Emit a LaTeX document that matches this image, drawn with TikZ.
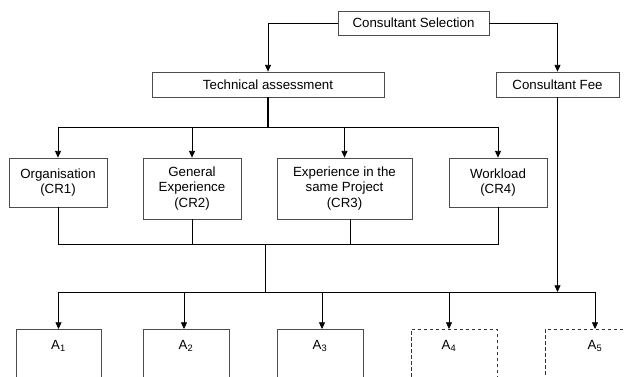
\documentclass[tikz,border=0pt]{standalone}
\usepackage{fontspec}
\setmainfont{Liberation Sans}
\usetikzlibrary{arrows.meta}

\tikzset{
  box/.style={draw=black!70, line width=0.8pt, align=center, inner sep=2pt,
    font=\fontsize{13.3}{15.2}\selectfont},
  altbox/.style={box, dashed, dash pattern=on 3.3pt off 2.7pt, draw=black!80},
  alabel/.style={anchor=north, yshift=-8pt, font=\fontsize{13.3}{15.2}\selectfont},
  link/.style={draw=black, line width=0.8pt},
  >={Triangle[length=6.7pt,width=6pt]}
}

\begin{document}
\begin{tikzpicture}[x=1pt,y=-1pt]
\useasboundingbox (0,0) rectangle (626,376);
\clip (0,0) rectangle (626,376);

\node[box, minimum width=151, minimum height=24] (sel) at (413.5,23) {Consultant Selection};
\node[box, minimum width=232, minimum height=25] (tech) at (268,84.5) {Technical assessment};
\node[box, minimum width=123, minimum height=25] (fee) at (557.5,84.5) {Consultant Fee};

\node[box, minimum width=98, minimum height=49] (cr1) at (58,182.5) {Organisation\\(CR1)};
\node[box, minimum width=98, minimum height=61] (cr2) at (192,188.5) {General\\Experience\\(CR2)};
\node[box, minimum width=135, minimum height=61] (cr3) at (344.5,188.5) {Experience in the\\same Project\\(CR3)};
\node[box, minimum width=98, minimum height=49] (cr4) at (498,182.5) {Workload\\(CR4)};

\node[box, minimum width=85, minimum height=90, anchor=north, label={[alabel]north:A\textsubscript{1}}] (a1) at (58.5,329) {};
\node[box, minimum width=86, minimum height=90, anchor=north, label={[alabel]north:A\textsubscript{2}}] (a2) at (186,329) {};
\node[box, minimum width=86, minimum height=90, anchor=north, label={[alabel]north:A\textsubscript{3}}] (a3) at (320,329) {};
\node[altbox, minimum width=86, minimum height=90, anchor=north, label={[alabel,xshift=-5pt]north:A\textsubscript{4}}] (a4) at (454,329) {};
\node[altbox, minimum width=90, minimum height=90, anchor=north, label={[alabel,xshift=5pt]north:A\textsubscript{5}}] (a5) at (590,329) {};

% bus points
\coordinate (tbus) at (268,127);
\coordinate (lbus) at (265,244);
\coordinate (abus) at (265,292);

\draw[link,->] (sel.west) -| (tech.north);
\draw[link,->] (sel.east) -| (fee.north);

\draw[link, line width=1.75pt] (tech.south) -- (tbus);
\draw[link,->] (tbus) -| (cr1.north);
\draw[link,->] (tbus) -| (cr2.north);
\draw[link,->] (tbus) -| (cr3.north);
\draw[link,->] (tbus) -| (cr4.north);

\draw[link] (cr1.south) |- (lbus);
\draw[link] (cr2.south) |- (lbus);
\draw[link] ([xshift=6]cr3.south) |- (lbus);
\draw[link] (cr4.south) |- (lbus);
\draw[link] (lbus) -- (abus);

\draw[link,->] (fee.south) -- (fee.south |- abus);

\draw[link,->] (abus) -| (a1.north);
\draw[link,->] (abus) -| ([xshift=-2]a2.north);
\draw[link,->] (abus) -| ([xshift=2]a3.north);
\draw[link,->] (abus) -| ([xshift=-5]a4.north);
\draw[link,->] (abus) -| ([xshift=5]a5.north);

\end{tikzpicture}
\end{document}
